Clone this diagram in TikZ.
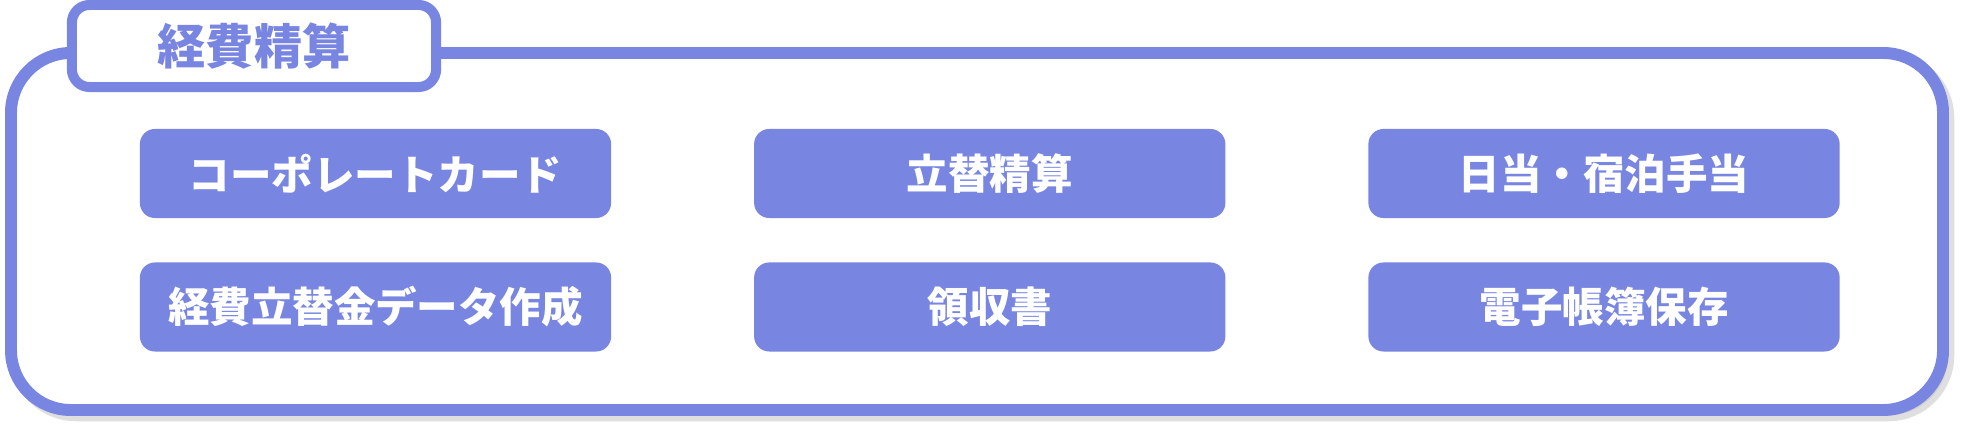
\documentclass[tikz,border=0pt]{standalone}
\usepackage{fontspec}
\newfontfamily\jpfont{Noto Sans CJK JP}
\usetikzlibrary{positioning,shadows}
\definecolor{lav}{RGB}{120,134,226}

\begin{document}
\begin{tikzpicture}[x=0.01cm,y=-0.01cm,node distance=0.43cm and 1.415cm]
          \tikzstyle{every node}=[font=\jpfont\bfseries]
          \tikzstyle{item}=[fill=lav,rounded corners=4.3pt,minimum width=4.71cm,minimum height=0.89cm,text=white,font=\jpfont\bfseries\fontsize{11.8}{14}\selectfont]
          \useasboundingbox (0,0) rectangle (1966,431);
          % outer frame
          \draw[lav,line width=3.4pt,rounded corners=17pt,fill=white,
                drop shadow={shadow xshift=1.5pt,shadow yshift=-1.5pt,fill=black!25,draw=black!25,line width=3.4pt}]
               (11,53) rectangle (1943,410);
          \node[draw=lav,line width=2.85pt,fill=white,rounded corners=5pt,minimum width=3.64cm,minimum height=0.82cm,
                text=lav,font=\jpfont\bfseries\fontsize{13.7}{16}\selectfont] (title) at (254,46) {経費精算};
          % items
          \node[item] (card) at (375.5,173.5) {コーポレートカード};
          \node[item,right=of card] (tatekae) {立替精算};
          \node[item,right=of tatekae] (nitto) {日当・宿泊手当};
          \node[item,below=of card] (data) {経費立替金データ作成};
          \node[item,below=of tatekae] (ryoshu) {領収書};
          \node[item,below=of nitto] (denshi) {電子帳簿保存};
      \end{tikzpicture}
\end{document}
